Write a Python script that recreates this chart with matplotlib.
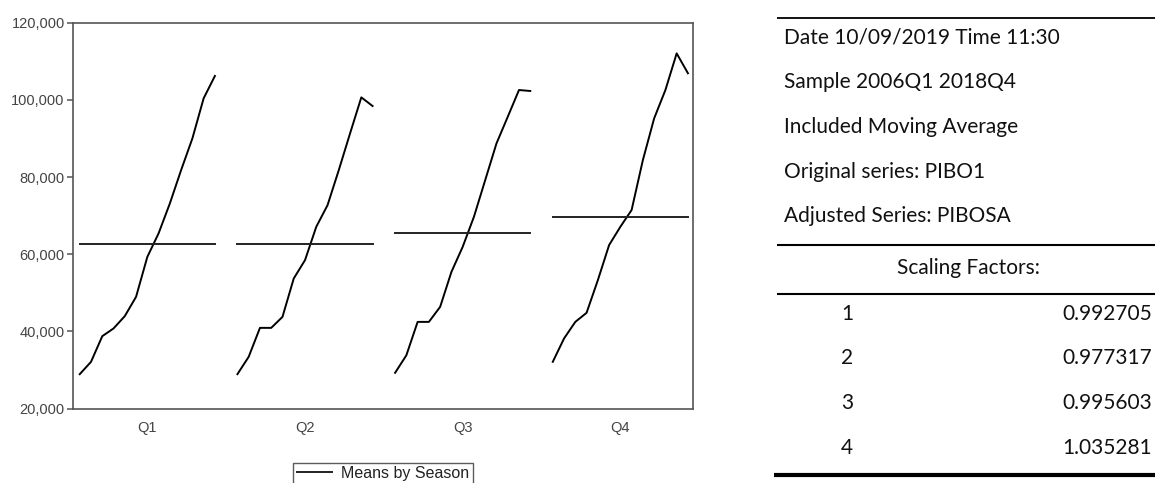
#!/usr/bin/env python3
import numpy as np
import matplotlib
matplotlib.use('Agg')
import matplotlib.pyplot as plt

# Seasonal values (2006-2018), one list per quarter
seasons = ['Q1', 'Q2', 'Q3', 'Q4']
q1_values = [28900, 32100, 38750, 40750, 43950, 48950, 59300, 65400, 73150, 81800, 90000, 100400, 106200]
q2_values = [28900, 33400, 40900, 40900, 43750, 53700, 58450, 67100, 72700, 81800, 91300, 100650, 98400]
q3_values = [29250, 33800, 42450, 42450, 46350, 55400, 61900, 69700, 79200, 88700, 95600, 102550, 102300]
q4_values = [32100, 38150, 42450, 44800, 53250, 62350, 67100, 71450, 84400, 95200, 102550, 112050, 106900]
season_means = [62600, 62600, 65550, 69750]

ytick_values = [20000, 40000, 60000, 80000, 100000, 120000]
ytick_labels = ['20,000', '40,000', '60,000', '80,000', '100,000', '120,000']

# Text block on the right
info_lines = ['Date 10/09/2019 Time 11:30',
              'Sample 2006Q1 2018Q4',
              'Included Moving Average',
              'Original series: PIBO1',
              'Adjusted Series: PIBOSA']
factor_labels = ['1', '2', '3', '4']
scaling_factors = [0.992705, 0.977317, 0.995603, 1.035281]

plt.rcParams['font.family'] = ['Liberation Sans', 'DejaVu Sans']

W, H = 1155, 483
fig = plt.figure(figsize=(W / 100, H / 100), dpi=100)
fig.patch.set_facecolor('white')

ax = fig.add_axes([73 / W, 1 - 408.5 / H, 620 / W, (408.5 - 22.7) / H])

frame_col = '#555555'
n_years = len(q1_values)
step = n_years + 1  # one empty slot between seasons
all_series = [q1_values, q2_values, q3_values, q4_values]

for i, (vals, mean) in enumerate(zip(all_series, season_means)):
    x = i * step + np.arange(n_years)
    ax.plot(x, vals, color='black', lw=1.4)
    ax.plot([x[0], x[-1]], [mean, mean], color='#222222', lw=1.4,
            label='Means by Season' if i == 0 else None)

ax.set_xlim(-0.6, (len(seasons) - 1) * step + n_years - 1 + 0.45)
ax.set_ylim(20000, 120000)
ax.set_yticks(ytick_values)
ax.set_yticklabels(ytick_labels)
ax.set_xticks([i * step + (n_years - 1) / 2 for i in range(len(seasons))])
ax.set_xticklabels(seasons)

for side in ax.spines.values():
    side.set_color(frame_col)
    side.set_linewidth(1.2)
ax.tick_params(axis='y', direction='out', length=4, width=1.1, color=frame_col,
               labelsize=10.5, labelcolor='#444444', pad=2)
ax.tick_params(axis='x', length=0, labelsize=10.5, labelcolor='#444444', pad=9)

leg = ax.legend(loc='upper center', bbox_to_anchor=(0.5, -0.12), frameon=True,
                fancybox=False, fontsize=11.5, handlelength=2.2, borderpad=0.2,
                handletextpad=0.6)
leg.get_frame().set_edgecolor('#333333')
leg.get_frame().set_linewidth(1.0)
for t in leg.get_texts():
    t.set_color('#222222')

# Right-hand table, laid out in pixel coordinates
tx = fig.add_axes([700 / W, 0, (W - 700) / W, 1])
tx.set_xlim(700, W)
tx.set_ylim(H, 0)
tx.axis('off')

tfont = dict(family=['Lato', 'DejaVu Sans'], fontsize=15, color='#111111')

tx.plot([777, W], [18, 18], color='black', lw=1.3, solid_capstyle='butt')
for k, line in enumerate(info_lines):
    tx.text(784, 38 + k * 44.5, line, va='center', ha='left', **tfont)

tx.plot([777, W], [245, 245], color='black', lw=1.5, solid_capstyle='butt')
tx.text(968, 268, 'Scaling Factors:', va='center', ha='center', **tfont)
tx.plot([777, W], [294, 294], color='black', lw=1.5, solid_capstyle='butt')

for k, (lab, val) in enumerate(zip(factor_labels, scaling_factors)):
    yy = 314 + k * 44.5
    tx.text(847, yy, lab, va='center', ha='center', **tfont)
    tx.text(1152, yy, f'{val:.6f}', va='center', ha='right', **tfont)

tx.plot([774, W], [475, 475], color='black', lw=3.0, solid_capstyle='butt')

plt.savefig('out.png', dpi=100, facecolor='white')
